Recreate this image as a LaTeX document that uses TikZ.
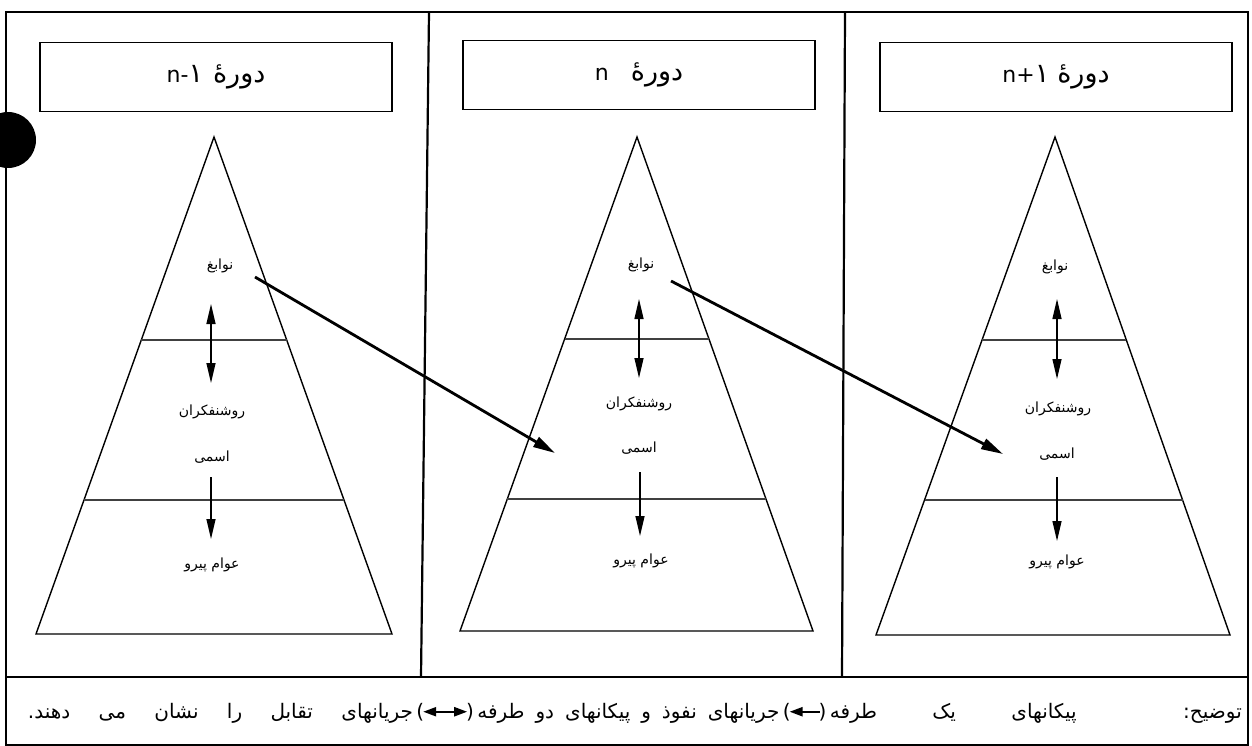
\documentclass[tikz,border=0pt]{standalone}
\usepackage{fontspec}
\setmainfont{DejaVu Sans}
\newfontfamily\ar[Script=Arabic]{DejaVu Sans}
\TeXXeTstate=1
\usetikzlibrary{arrows.meta,calc}
\newcommand{\hdrar}{\ar\fontsize{27}{29}\selectfont}
\begin{document}
\begin{tikzpicture}[x=1pt,y=-1pt,
  frame/.style={line width=2.2pt},
  hdr/.style={draw,line width=1.6pt,minimum width=352pt,minimum height=69pt,inner sep=0pt,font=\fontsize{22}{24}\selectfont},
  pyr/.style={line width=1.4pt,line join=miter},
  divl/.style={line width=1.3pt,black!75},
  lbl/.style={font=\ar\fontsize{14}{16}\selectfont,inner sep=1pt},
  captxt/.style={font=\ar\fontsize{20}{22}\selectfont,inner sep=0pt},
  captpar/.style={font=\fontsize{20}{22}\selectfont,inner sep=0pt},
  flow/.style={line width=2.8pt,-{Triangle[length=22pt,width=11pt]}},
  mutual/.style={line width=1.3pt,{Triangle[length=20pt,width=9pt]}-{Triangle[length=20pt,width=9pt]}},
  down/.style={line width=1.3pt,-{Triangle[length=20pt,width=9pt]}},
  oneway/.style={line width=2.2pt,-{Triangle[length=13pt,width=9pt]}},
  twoway/.style={line width=2.2pt,{Triangle[length=13pt,width=9pt]}-{Triangle[length=13pt,width=9pt]}}
]
\useasboundingbox (0,0) rectangle (1252,746);
\fill[white] (0,0) rectangle (1252,746);
% outer frame and panels
\coordinate (f1) at (6,12);
\coordinate (f2) at (1248,12);
\coordinate (f3) at (1248,745);
\coordinate (f4) at (6,745);
\draw[frame] (f1) -- (f2) -- (f3) -- (f4) -- cycle;
\coordinate (b1) at (6,677);
\coordinate (b2) at (1248,677);
\draw[frame] (b1) -- (b2);
\coordinate (v1t) at (429,12);
\coordinate (v1b) at (421,677);
\coordinate (v2t) at (845,12);
\coordinate (v2b) at (842,677);
\draw[frame] (v1t) -- (v1b);
\draw[frame] (v2t) -- (v2b);
% black dot
\fill (8,140) circle (28);
% headers
\node[hdr] (h1) at (216,77) {n-{\hdrar ١}\hspace{10pt}{\hdrar\beginR دورهٔ\endR}};
\node[hdr] (h2) at (639,75) {n\hspace{22pt}{\hdrar\beginR دورهٔ\endR}};
\node[hdr] (h3) at (1056,77) {n+{\hdrar ١}\hspace{8pt}{\hdrar\beginR دورهٔ\endR}};
% pyramid 1
\coordinate (A1) at (214,137); \coordinate (L1) at (36,634); \coordinate (R1) at (392,634);
\draw[pyr] (A1) -- (L1) -- (R1) -- cycle;
\draw[divl] ($(A1)!0.4085!(L1)$) -- ($(A1)!0.4085!(R1)$);
\draw[divl] ($(A1)!0.7304!(L1)$) -- ($(A1)!0.7304!(R1)$);
% pyramid 2
\coordinate (A2) at (637,137); \coordinate (L2) at (460,631); \coordinate (R2) at (813,631);
\draw[pyr] (A2) -- (L2) -- (R2) -- cycle;
\draw[divl] ($(A2)!0.4089!(L2)$) -- ($(A2)!0.4089!(R2)$);
\draw[divl] ($(A2)!0.7328!(L2)$) -- ($(A2)!0.7328!(R2)$);
% pyramid 3
\coordinate (A3) at (1055,137); \coordinate (L3) at (876,635); \coordinate (R3) at (1230,635);
\draw[pyr] (A3) -- (L3) -- (R3) -- cycle;
\draw[divl] ($(A3)!0.4076!(L3)$) -- ($(A3)!0.4076!(R3)$);
\draw[divl] ($(A3)!0.729!(L3)$) -- ($(A3)!0.729!(R3)$);
% labels pyramid 1
\node[lbl] (t1) at (220,266) {\beginR نوابغ\endR};
\node[lbl] (m1) at (212,412) {\beginR روشنفکران\endR};
\node[lbl] (s1) at (212,457) {\beginR اسمی\endR};
\node[lbl] (g1) at (212,565) {\beginR عوام پیرو\endR};
% labels pyramid 2
\node[lbl] (t2) at (641,265) {\beginR نوابغ\endR};
\node[lbl] (m2) at (639,404) {\beginR روشنفکران\endR};
\node[lbl] (s2) at (639,448) {\beginR اسمی\endR};
\node[lbl] (g2) at (641,561) {\beginR عوام پیرو\endR};
% labels pyramid 3
\node[lbl] (t3) at (1055,267) {\beginR نوابغ\endR};
\node[lbl] (m3) at (1058,409) {\beginR روشنفکران\endR};
\node[lbl] (s3) at (1057,454) {\beginR اسمی\endR};
\node[lbl] (g3) at (1057,562) {\beginR عوام پیرو\endR};
% vertical arrows
\coordinate (ua1) at (211,304); \coordinate (ub1) at (211,383);
\coordinate (da1) at (211,477); \coordinate (db1) at (211,539);
\coordinate (ua2) at (639,299); \coordinate (ub2) at (639,378);
\coordinate (da2) at (640,472); \coordinate (db2) at (640,536);
\coordinate (ua3) at (1057,299); \coordinate (ub3) at (1057,379);
\coordinate (da3) at (1057,477); \coordinate (db3) at (1057,541);
\draw[mutual] (ua1) -- (ub1);
\draw[mutual] (ua2) -- (ub2);
\draw[mutual] (ua3) -- (ub3);
\draw[down] (da1) -- (db1);
\draw[down] (da2) -- (db2);
\draw[down] (da3) -- (db3);
% influence arrows
\coordinate (fs1) at (255,277); \coordinate (fe1) at (555,453);
\coordinate (fs2) at (671,281); \coordinate (fe2) at (1003,454);
\draw[flow] (fs1) -- (fe1);
\draw[flow] (fs2) -- (fe2);
% caption
\node[captxt,anchor=base east] (c1) at (1242,718) {\hbox to 412pt{\beginR توضیح: پیکانهای یک طرفه\endR}};
\node[captpar,anchor=base east] (p1) at ([xshift=-3pt]c1.base west) {(\hspace{28pt})};
\node[captxt,anchor=base east] (c2) at ([xshift=-3pt]p1.base west) {\hbox to 302pt{\beginR جریانهای نفوذ و پیکانهای دو طرفه\endR}};
\node[captpar,anchor=base east] (p2) at ([xshift=-3pt]c2.base west) {(\hspace{42pt})};
\node[captxt,anchor=base east] (c3) at ([xshift=-3pt]p2.base west) {\hbox to 385pt{\beginR جریانهای تقابل را نشان می دهند.\endR}};
\coordinate (q1r) at ($(p1.east)+(-7,0)$); \coordinate (q1l) at ($(p1.west)+(7,0)$);
\coordinate (q2r) at ($(p2.east)+(-7,0)$); \coordinate (q2l) at ($(p2.west)+(7,0)$);
\draw[oneway] (q1r) -- (q1l);
\draw[twoway] (q2r) -- (q2l);
\end{tikzpicture}
\end{document}
